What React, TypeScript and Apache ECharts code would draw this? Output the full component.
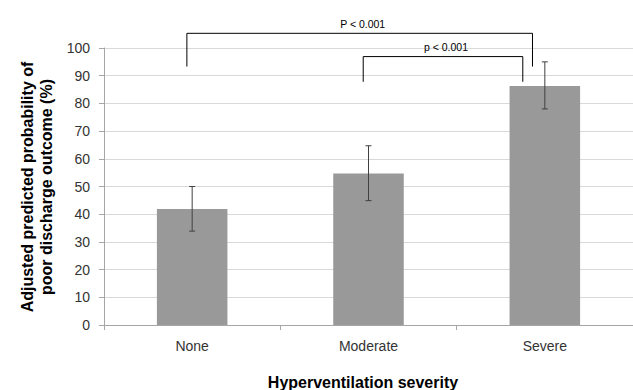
import React, { useEffect, useRef } from "react";
import * as echarts from "echarts";

const categories = ["None", "Moderate", "Severe"];
const probabilities = [41.9, 54.7, 86.3];
const ciLower = [33.9, 44.9, 78.0];
const ciUpper = [50.0, 64.7, 95.0];

const bracketLabels = ["P < 0.001", "p < 0.001"];
const bracketFrom = [0, 1];
const bracketTo = [2, 2];
const bracketTop = [105.3, 96.9];
const bracketLegEnd = [93.3, 87.8];
// small horizontal shifts of bracket ends, as a fraction of a category band
const bracketFromShift = [-0.03, -0.03];
const bracketToShift = [-0.07, -0.125];

const yTicks = { min: 0, max: 100, interval: 10 };

const FONT = "'Liberation Sans', Arial, sans-serif";

export default function App() {
  const ref = useRef<HTMLDivElement>(null);

  useEffect(() => {
    if (!ref.current) return;
    const chart = echarts.init(ref.current, undefined, { renderer: "svg" });

    const errorData = categories.map((_, i) => [i, ciLower[i], ciUpper[i]]);
    const bracketData = bracketLabels.map((_, i) => [bracketFrom[i], bracketTop[i]]);

    chart.setOption({
      animation: false,
      backgroundColor: "#ffffff",
      textStyle: { fontFamily: FONT },
      grid: { left: 104, right: 0, top: 48, bottom: 65, containLabel: false },
      xAxis: {
        type: "category",
        data: categories,
        boundaryGap: true,
        axisLine: { show: true, lineStyle: { color: "#a6a6a6", width: 1 } },
        axisTick: { show: true, alignWithLabel: false, length: 5, lineStyle: { color: "#a6a6a6" } },
        axisLabel: { color: "#333333", fontSize: 14, fontFamily: FONT, margin: 14 },
        splitLine: { show: false },
      },
      yAxis: {
        type: "value",
        min: yTicks.min,
        max: yTicks.max,
        interval: yTicks.interval,
        axisLine: { show: true, lineStyle: { color: "#a6a6a6", width: 1 } },
        axisTick: { show: true, length: 5, lineStyle: { color: "#a6a6a6" } },
        axisLabel: { color: "#333333", fontSize: 14, fontFamily: FONT, margin: 14 },
        splitLine: { show: true, lineStyle: { color: "#d9d9d9", width: 1 } },
      },
      graphic: [
        {
          type: "text",
          x: 37,
          y: 187,
          rotation: Math.PI / 2,
          style: {
            text: "Adjusted predicted probability of\npoor discharge outcome (%)",
            font: `bold 16px ${FONT}`,
            fill: "#000000",
            align: "center",
            verticalAlign: "middle",
            lineHeight: 19,
          },
        },
        {
          type: "text",
          x: 363,
          y: 382,
          style: {
            text: "Hyperventilation severity",
            font: `bold 16px ${FONT}`,
            fill: "#000000",
            align: "center",
            verticalAlign: "middle",
          },
        },
      ],
      series: [
        {
          type: "bar",
          data: probabilities,
          barWidth: "40%",
          itemStyle: { color: "#999999" },
          silent: true,
        },
        {
          type: "custom",
          data: errorData,
          encode: { x: 0, y: [1, 2] },
          silent: true,
          z: 5,
          renderItem: (params: any, api: any) => {
            const idx = api.value(0);
            const lo = api.coord([idx, api.value(1)]);
            const hi = api.coord([idx, api.value(2)]);
            const cap = 3;
            const style = { stroke: "#404040", lineWidth: 1 };
            return {
              type: "group",
              children: [
                { type: "line", shape: { x1: hi[0], y1: hi[1], x2: lo[0], y2: lo[1] }, style },
                { type: "line", shape: { x1: hi[0] - cap, y1: hi[1], x2: hi[0] + cap, y2: hi[1] }, style },
                { type: "line", shape: { x1: lo[0] - cap, y1: lo[1], x2: lo[0] + cap, y2: lo[1] }, style },
              ],
            };
          },
        },
        {
          type: "custom",
          data: bracketData,
          encode: { x: 0, y: 1 },
          silent: true,
          clip: false,
          z: 6,
          renderItem: (params: any, api: any) => {
            const i = params.dataIndex;
            const band = api.size([1, 0])[0];
            const a = api.coord([bracketFrom[i], bracketTop[i]]);
            const b = api.coord([bracketTo[i], bracketTop[i]]);
            const legY = api.coord([bracketFrom[i], bracketLegEnd[i]])[1];
            const x1 = a[0] + bracketFromShift[i] * band;
            const x2 = b[0] + bracketToShift[i] * band;
            const y = a[1];
            return {
              type: "group",
              children: [
                {
                  type: "polyline",
                  shape: { points: [[x1, legY], [x1, y], [x2, y], [x2, legY]] },
                  style: { stroke: "#000000", lineWidth: 1, fill: "none" },
                },
                {
                  type: "text",
                  x: (x1 + x2) / 2 + 3,
                  y: y - 4,
                  style: {
                    text: bracketLabels[i],
                    font: `10.5px ${FONT}`,
                    fill: "#000000",
                    align: "center",
                    verticalAlign: "bottom",
                  },
                },
              ],
            };
          },
        },
      ],
    });

    return () => chart.dispose();
  }, []);

  return (
    <div
      ref={ref}
      style={{ position: "fixed", left: 0, top: 0, width: 633, height: 390 }}
    />
  );
}
